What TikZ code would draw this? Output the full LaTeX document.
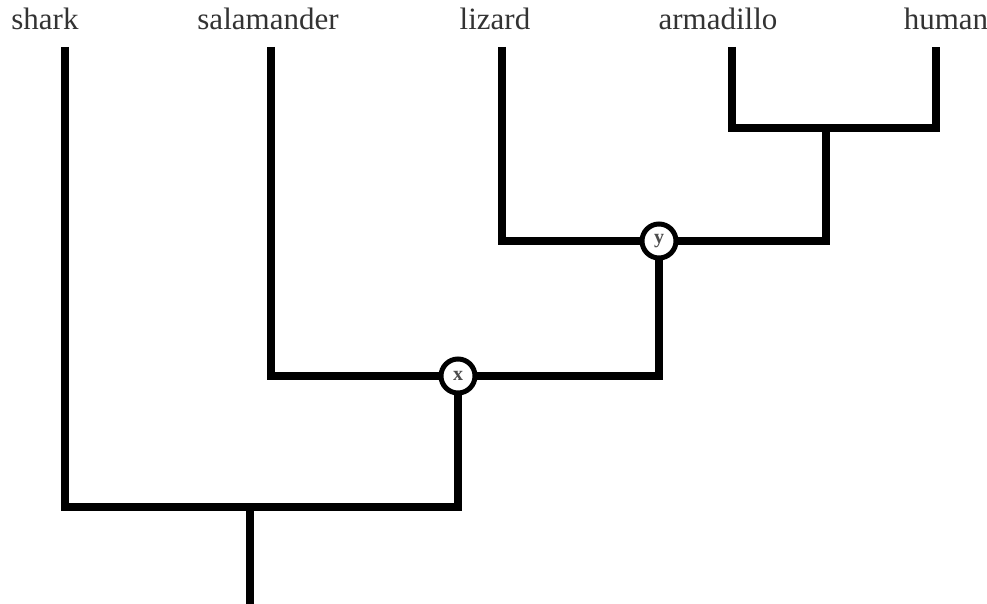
\documentclass[tikz,border=0pt]{standalone}
\usepackage{fontspec}
\setmainfont{Liberation Serif}
\begin{document}
\begin{tikzpicture}[x=1pt,y=-1pt,
  branch/.style={line width=8pt},
  taxon/.style={anchor=base,font=\fontsize{31}{32}\selectfont,text=black!80,inner sep=0pt},
  innode/.style={circle,draw,line width=5pt,fill=white,minimum size=34pt,inner sep=0pt,font=\fontsize{20}{21}\selectfont\bfseries,text=black!70}]
\useasboundingbox (0,0) rectangle (987,604);
% taxa labels
\node[taxon] (tshark) at (45,30) {shark};
\node[taxon] (tsal) at (268,30) {salamander};
\node[taxon] (tliz) at (495,30) {lizard};
\node[taxon] (tarm) at (718,30) {armadillo};
\node[taxon] (thum) at (946,30) {human};
% tips
\coordinate (shark) at (65,47);
\coordinate (sal) at (271,47);
\coordinate (liz) at (502,47);
\coordinate (arm) at (732,47);
\coordinate (hum) at (936,47);
% internal
\coordinate (ah) at (826,128);
\coordinate (y) at (659,241);
\coordinate (x) at (458,376);
\coordinate (r) at (250,507);
\coordinate (root) at (250,604);
\draw[branch] (arm) |- (ah) -| (hum);
\draw[branch] (ah) -- (826,241) -- (y);
\draw[branch] (liz) |- (y);
\draw[branch] (y) -- (659,376) -- (x);
\draw[branch] (sal) |- (x);
\draw[branch] (x) -- (458,507) -- (r);
\draw[branch] (shark) |- (r);
\draw[branch] (r) -- (root);
\node[innode] (ny) at (y) {y};
\node[innode] (nx) at (x) {x};
\end{tikzpicture}
\end{document}
